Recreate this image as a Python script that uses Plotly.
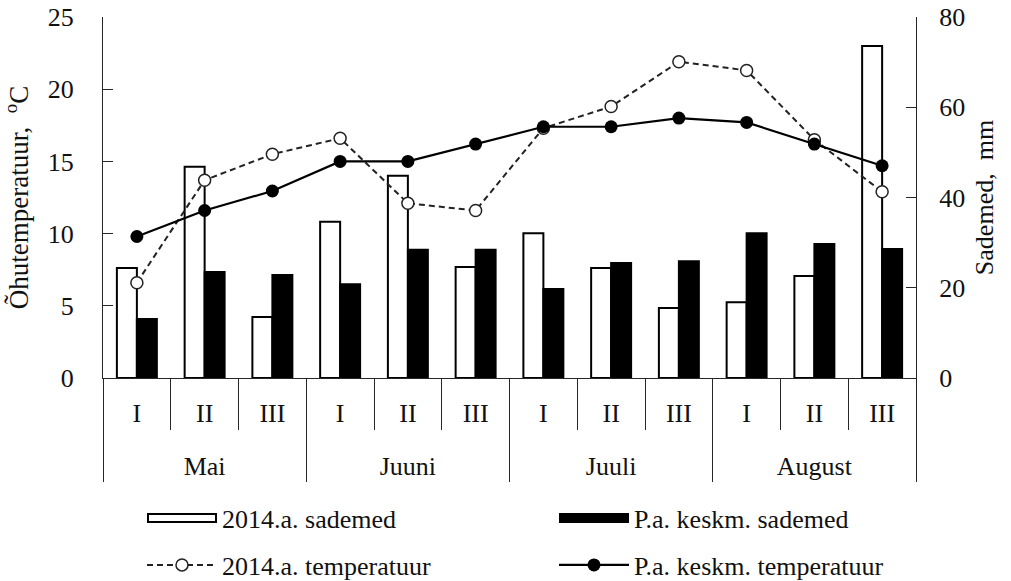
import plotly.graph_objects as go

months = ["Mai", "Juuni", "Juuli", "August"]
decades = ["I", "II", "III"]

rain_2014 = [24.4, 46.8, 13.5, 34.6, 44.8, 24.6, 32.1, 24.4, 15.5, 16.8, 22.6, 73.6]
rain_avg = [13.1, 23.5, 22.8, 20.8, 28.4, 28.4, 19.7, 25.5, 25.9, 32.1, 29.7, 28.6]
temp_2014 = [6.6, 13.7, 15.5, 16.6, 12.1, 11.6, 17.3, 18.8, 21.9, 21.3, 16.5, 12.9]
temp_avg = [9.8, 11.6, 12.95, 15.0, 15.0, 16.2, 17.4, 17.4, 18.0, 17.7, 16.2, 14.7]

names = ["2014.a. sademed", "P.a. keskm. sademed", "2014.a. temperatuur", "P.a. keskm. temperatuur"]

# inner labels get an empty second line so the month row sits lower (as in the reference)
x_outer = [m for m in months for _ in decades]
x_inner = [d + "<br>\u00a0" for _ in months for d in decades]
x = [x_outer, x_inner]

FONT = "Liberation Serif, Times New Roman, serif"
AX = "#262626"
FS = 26

fig = go.Figure()
fig.add_trace(go.Bar(x=x, y=rain_2014, name=names[0], yaxis="y", showlegend=False,
                     marker=dict(color="white", line=dict(color="black", width=2))))
fig.add_trace(go.Bar(x=x, y=rain_avg, name=names[1], yaxis="y", showlegend=False,
                     marker=dict(color="black", line=dict(color="black", width=2))))
fig.add_trace(go.Scatter(x=x, y=temp_2014, name=names[2], yaxis="y2", legend="legend3",
                         mode="lines+markers",
                         line=dict(color="#222", width=2, dash="6px,4px"),
                         marker=dict(symbol="circle", size=12, color="white",
                                     line=dict(color="#222", width=1.5))))
fig.add_trace(go.Scatter(x=x, y=temp_avg, name=names[3], yaxis="y2", legend="legend4",
                         mode="lines+markers",
                         line=dict(color="black", width=2.2),
                         marker=dict(symbol="circle", size=13, color="black")))

# legend proxies for the bar series (wide rectangles as in the reference)
fig.add_trace(go.Scatter(x=[None], y=[None], yaxis="y", name=names[0], legend="legend",
                         mode="lines", line=dict(color="black", width=10)))
fig.add_trace(go.Scatter(x=[None], y=[None], yaxis="y", name=names[1], legend="legend2",
                         mode="lines", line=dict(color="black", width=10)))
fig.add_trace(go.Scatter(x=[None], y=[None], yaxis="y", name="\u00a0", legend="legend5",
                         mode="lines", line=dict(color="white", width=6)))

leg_common = dict(orientation="h", xref="container", yref="container", xanchor="left",
                  yanchor="middle", traceorder="normal",
                  font=dict(family=FONT, size=FS, color="#111"), bgcolor="rgba(0,0,0,0)")
C1, C2 = 142, 554
R1, R2 = 518, 565

fig.update_layout(
    width=1011, height=581,
    margin=dict(l=103, r=95, t=17, b=203, autoexpand=False),
    paper_bgcolor="white", plot_bgcolor="white",
    font=dict(family=FONT, size=FS, color="#111"),
    barmode="group", bargap=0.41, bargroupgap=0,
    showlegend=True,
    xaxis=dict(
        type="multicategory", range=[-0.5, 11.5], autorange=False,
        showline=True, linecolor=AX, linewidth=1,
        ticks="outside", tickson="boundaries", ticklen=51, tickcolor=AX, tickwidth=1,
        showdividers=True, dividercolor=AX, dividerwidth=1,
        showgrid=False, zeroline=False,
        tickfont=dict(family=FONT, size=FS, color="#111"),
        ticklabelstandoff=12,
    ),
    yaxis=dict(
        side="right", range=[0, 80], dtick=20, showgrid=False, zeroline=False,
        showline=True, linecolor=AX, linewidth=1, ticks="inside", ticklen=10,
        tickcolor=AX, ticklabelstandoff=17,
        title=dict(text="Sademed,&nbsp; mm", standoff=10,
                   font=dict(family=FONT, size=FS, color="#111")),
    ),
    yaxis2=dict(
        overlaying="y", side="left", range=[0, 25], dtick=5, showgrid=False,
        zeroline=False, showline=True, linecolor=AX, linewidth=1, ticks="inside",
        ticklen=10, tickcolor=AX, ticklabelstandoff=23,
        title=dict(text="Õhutemperatuur,&nbsp; <sup>o</sup>C", standoff=15,
                   font=dict(family=FONT, size=27, color="#111")),
    ),
    legend=dict(x=C1 / 1011, y=1 - R1 / 581, itemwidth=70, **leg_common),
    legend2=dict(x=C2 / 1011, y=1 - R1 / 581, itemwidth=70, **leg_common),
    legend3=dict(x=C1 / 1011, y=1 - R2 / 581, itemwidth=70, **leg_common),
    legend4=dict(x=C2 / 1011, y=1 - R2 / 581, itemwidth=70, **leg_common),
    legend5=dict(x=(C1 + 2) / 1011, y=1 - R1 / 581, itemwidth=66, **leg_common),
)

fig.write_html("out.html", config={"displayModeBar": False},
               post_script="document.body.style.margin='0px';")
